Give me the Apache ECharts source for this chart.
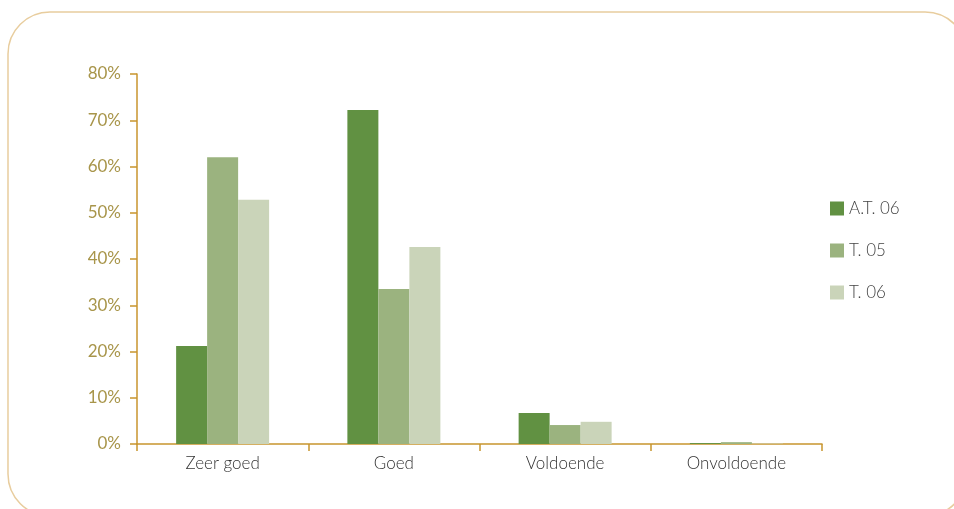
<!DOCTYPE html>
<html>
<head>
<meta charset="utf-8">
<script src="https://cdn.jsdelivr.net/npm/echarts@6/dist/echarts.min.js"></script>
<style>
  html, body { margin: 0; padding: 0; background: #fff; }
  #chart { width: 954px; height: 509px; }
</style>
</head>
<body>
<div id="chart"></div>
<script>
var categories = ['Zeer goed', 'Goed', 'Voldoende', 'Onvoldoende']
var seriesNames = ['A.T. 06', 'T. 05', 'T. 06']
var at06 = [21.2, 72.2, 6.7, 0.2]
var t05 = [62.0, 33.5, 4.1, 0.4]
var t06 = [52.8, 42.6, 4.8, 0.1]
var colors = ['#619142', '#9bb37f', '#cad4b9']

var axisColor = '#c8952e'
var chart = echarts.init(document.getElementById('chart'))

var option = {
    animation: false,
    color: colors,
    graphic: [{
        type: 'rect',
        shape: { x: 8, y: 12, width: 959, height: 504, r: 42 },
        style: { fill: 'none', stroke: '#e8cd9e', lineWidth: 1.5 },
        silent: true
    }],
    grid: { left: 137, right: 132, top: 74, bottom: 65, containLabel: false },
    legend: {
        orient: 'vertical',
        left: 825,
        top: 195,
        itemWidth: 14,
        itemHeight: 14,
        itemGap: 25,
        icon: 'rect',
        textStyle: { color: '#444', fontSize: 17, fontFamily: 'Lato', fontWeight: 300 },
        data: seriesNames
    },
    xAxis: {
        type: 'category',
        data: categories,
        axisLine: { lineStyle: { color: axisColor, width: 1.5 } },
        axisTick: { show: true, length: 7, inside: false, alignWithLabel: false, lineStyle: { color: axisColor, width: 1.5 } },
        axisLabel: { color: '#333', fontSize: 17, fontFamily: 'Lato', fontWeight: 300, margin: 11 }
    },
    yAxis: {
        type: 'value',
        min: 0,
        max: 80,
        interval: 10,
        axisLine: { show: true, lineStyle: { color: axisColor, width: 1.5 } },
        axisTick: { show: true, length: 7, lineStyle: { color: axisColor, width: 1.5 } },
        splitLine: { show: false },
        axisLabel: { color: '#a8954a', fontSize: 17, fontFamily: 'Lato', fontWeight: 400, margin: 16, formatter: '{value}%' }
    },
    series: [
        { name: seriesNames[0], type: 'bar', data: at06, barWidth: 31, barGap: '0%' },
        { name: seriesNames[1], type: 'bar', data: t05, barWidth: 31, barGap: '0%' },
        { name: seriesNames[2], type: 'bar', data: t06, barWidth: 31, barGap: '0%' }
    ]
}

chart.setOption(option)
</script>
</body>
</html>
